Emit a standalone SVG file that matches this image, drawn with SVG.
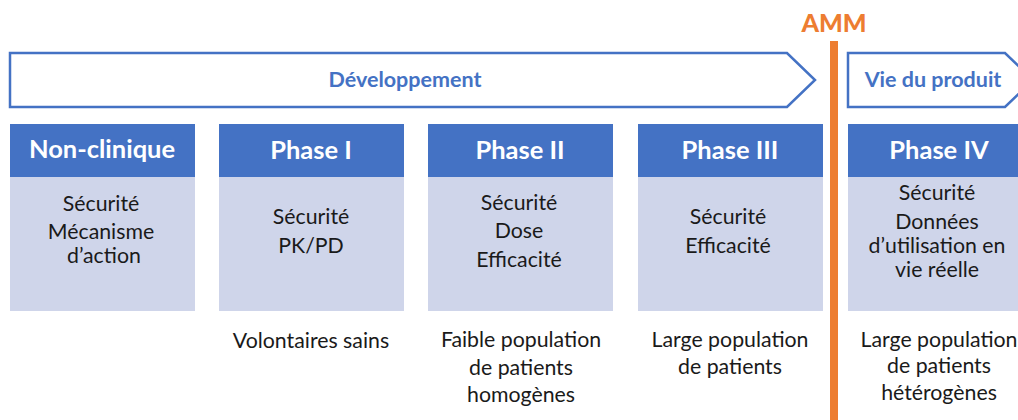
<svg xmlns="http://www.w3.org/2000/svg" width="1018" height="420" viewBox="0 0 1018 420">
<style>
.arrow{fill:#fff;stroke:#4472C4;stroke-width:2.5}
.atxt{font-family:Lato,"Liberation Sans",sans-serif;font-weight:bold;font-size:21.5px;fill:#4472C4;text-anchor:middle}
.hdr{fill:#4472C4}
.body{fill:#CFD5EA}
.htxt{font-family:Lato,"Liberation Sans",sans-serif;font-weight:bold;font-size:25.5px;fill:#fff;text-anchor:middle}
.btxt{font-family:Lato,"Liberation Sans",sans-serif;font-size:21.3px;fill:#1a1a1a;text-anchor:middle}
</style>
<g id="connectors">
<path class="arrow" d="M10,53 H787 L815,80 L787,107 H10 Z"/>
<path class="arrow" d="M848,53 H1005 L1033,80 L1005,107 H848 Z"/>
<rect x="830" y="41" width="8" height="379" fill="#ED7D31"/>
</g>
<g id="labels">
<text class="atxt" x="405" y="87">Développement</text>
<text class="atxt" x="933" y="87">Vie du produit</text>
<text x="834" y="32" font-family="Lato,'Liberation Sans',sans-serif" font-weight="900" font-size="25" fill="#ED7D31" text-anchor="middle">AMM</text>
</g>
<g id="nonclinique">
<rect class="body" x="10" y="177" width="185" height="134"/>
<rect class="hdr" x="10" y="124" width="185" height="53"/>
<text class="htxt" x="102" y="158">Non-clinique</text>
<text class="btxt" x="101" y="211">Sécurité</text>
<text class="btxt" x="101" y="239">Mécanisme</text>
<text class="btxt" x="104" y="263">d’action</text>
</g>
<g id="phase1">
<rect class="body" x="219" y="177" width="185" height="134"/>
<rect class="hdr" x="219" y="124" width="185" height="53"/>
<text class="htxt" x="311" y="159">Phase I</text>
<text class="btxt" x="311" y="224">Sécurité</text>
<text class="btxt" x="311" y="253">PK/PD</text>
<text class="btxt" x="311" y="348">Volontaires sains</text>
</g>
<g id="phase2">
<rect class="body" x="428" y="177" width="185" height="134"/>
<rect class="hdr" x="428" y="124" width="185" height="53"/>
<text class="htxt" x="520" y="159">Phase II</text>
<text class="btxt" x="519" y="210">Sécurité</text>
<text class="btxt" x="519" y="238">Dose</text>
<text class="btxt" x="519" y="267">Efficacité</text>
<text class="btxt" x="521" y="347">Faible population</text>
<text class="btxt" x="521" y="375">de patients</text>
<text class="btxt" x="521" y="402">homogènes</text>
</g>
<g id="phase3">
<rect class="body" x="638" y="177" width="185" height="134"/>
<rect class="hdr" x="638" y="124" width="185" height="53"/>
<text class="htxt" x="730" y="159">Phase III</text>
<text class="btxt" x="728" y="224">Sécurité</text>
<text class="btxt" x="728" y="253">Efficacité</text>
<text class="btxt" x="730" y="347">Large population</text>
<text class="btxt" x="730" y="374">de patients</text>
</g>
<g id="phase4">
<rect class="body" x="848" y="177" width="185" height="134"/>
<rect class="hdr" x="848" y="124" width="185" height="53"/>
<text class="htxt" x="939" y="159">Phase IV</text>
<text class="btxt" x="937" y="200">Sécurité</text>
<text class="btxt" x="937" y="229">Données</text>
<text class="btxt" x="937" y="253">d’utilisation en</text>
<text class="btxt" x="937" y="277">vie réelle</text>
<text class="btxt" x="939" y="347">Large population</text>
<text class="btxt" x="939" y="373">de patients</text>
<text class="btxt" x="939" y="400">hétérogènes</text>
</g>
</svg>
